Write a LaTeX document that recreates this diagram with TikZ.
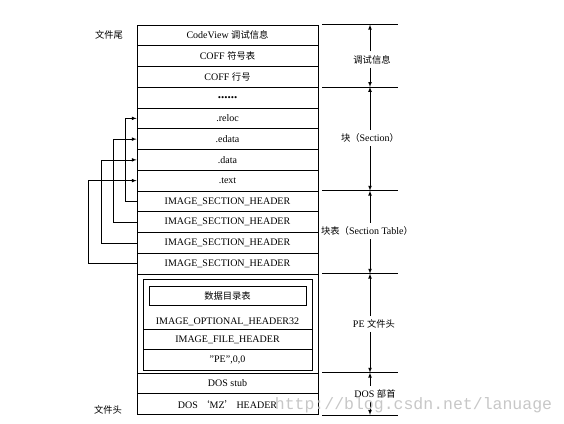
\documentclass[tikz,border=0pt]{standalone}
\usepackage{fontspec}
\setmainfont{Liberation Serif}
\newfontfamily\cjk{Noto Sans CJK SC}[Scale=0.93]
\newfontfamily\wmfont{Liberation Mono}
\usetikzlibrary{arrows, calc}
\tikzstyle{row} = [rectangle, minimum width=181pt, minimum height=20.75pt, inner sep=0pt, text centered, draw=black]
\tikzstyle{inrow} = [rectangle, minimum width=169pt, minimum height=20.75pt, inner sep=0pt, text centered, draw=black]
\tikzstyle{arrow} = [->, >=latex]
\tikzstyle{tick} = [line width=0.6pt]

\begin{document}
\begin{tikzpicture}[x=1pt, y=-1pt, node distance=20.75pt, font=\fontsize{10pt}{12pt}\selectfont, line width=0.7pt]
  \useasboundingbox (0,0) rectangle (564,423);
  \node (cv) [row] at (227.5,35.375) {CodeView {\cjk 调试信息}};
  \node (coffsym) [row, below of = cv] {COFF {\cjk 符号表}};
  \node (coffline) [row, below of = coffsym] {COFF {\cjk 行号}};
  \node (dots) [row, below of = coffline] {\fontsize{13pt}{14pt}\selectfont\textbf{......}};
  \node (reloc) [row, below of = dots] {.reloc};
  \node (edata) [row, below of = reloc] {.edata};
  \node (data) [row, below of = edata] {.data};
  \node (text) [row, below of = data] {.text};
  \node (ish1) [row, below of = text] {IMAGE\_SECTION\_HEADER};
  \node (ish2) [row, below of = ish1] {IMAGE\_SECTION\_HEADER};
  \node (ish3) [row, below of = ish2] {IMAGE\_SECTION\_HEADER};
  \node (ish4) [row, below of = ish3] {IMAGE\_SECTION\_HEADER};
  \node (pehdr) [row, below of = ish4, minimum height = 99pt, yshift = -39.125pt] {};
  \node (stub) [row, below of = pehdr, yshift = -39.125pt] {DOS stub};
  \node (mz) [row, below of = stub] {DOS {\cjk ‘}MZ{\cjk ’} HEADER};
  % PE header inside
  \node (opthdr) [inrow, minimum height = 50pt] at (227.5,304) {};
  \node (datadir) [rectangle, draw=black, minimum width=157pt, minimum height=19pt] at (227.5,295.5) {{\cjk 数据目录表}};
  \node (optlbl) [anchor = south] at (opthdr.south) {IMAGE\_OPTIONAL\_HEADER32};
  \node (fhdr) [inrow, below of = opthdr, yshift = -14.625pt] {IMAGE\_FILE\_HEADER};
  \node (pesig) [inrow, below of = fhdr] {"PE",0,0};
  % file ends
  \node (tail) at (109,35) {{\cjk 文件尾}};
  \node (head) at (108,410) {{\cjk 文件头}};
  % section headers point to sections
  \draw [arrow] (ish1.west) -- ++(-11pt,0) |- (reloc.west);
  \draw [arrow] (ish2.west) -- ++(-23pt,0) |- (edata.west);
  \draw [arrow] (ish3.west) -- ++(-35pt,0) |- (data.west);
  \draw [arrow] (ish4.west) -- ++(-48pt,0) |- (text.west);
  % ticks on the right
  \draw let \p1 = (cv.north east) in [tick] (\x1+4pt,\y1) -- (\x1+80pt,\y1);
  \draw let \p1 = (dots.north east) in [tick] (\x1+4pt,\y1) -- (\x1+80pt,\y1);
  \draw let \p1 = (ish1.north east) in [tick] (\x1+4pt,\y1) -- (\x1+80pt,\y1);
  \draw let \p1 = (pehdr.north east) in [tick] (\x1+4pt,\y1) -- (\x1+80pt,\y1);
  \draw let \p1 = (stub.north east) in [tick] (\x1+4pt,\y1) -- (\x1+80pt,\y1);
  \draw let \p1 = (mz.south east) in [tick] (\x1+4pt,\y1) -- (\x1+80pt,\y1);
  \coordinate (dimx) at (370,0);
  \node (dbglbl) at (372,59.5) {{\cjk 调试信息}};
  \node (seclbl) at (370,138) {{\cjk 块（}Section{\cjk ）}};
  \node (tbllbl) at (367,231) {{\cjk 块表（}Section Table{\cjk ）}};
  \node (pelbl) at (374,324) {PE {\cjk 文件头}};
  \node (doslbl) at (375,394) {DOS {\cjk 部首}};
  \draw [arrow] (dimx |- dbglbl.north) -- (dimx |- cv.north);
  \draw [arrow] (dimx |- dbglbl.south) -- (dimx |- dots.north);
  \draw [arrow] (dimx |- seclbl.north) -- (dimx |- dots.north);
  \draw [arrow] (dimx |- seclbl.south) -- (dimx |- ish1.north);
  \draw [arrow] (dimx |- tbllbl.north) -- (dimx |- ish1.north);
  \draw [arrow] (dimx |- tbllbl.south) -- (dimx |- pehdr.north);
  \draw [arrow] (dimx |- pelbl.north) -- (dimx |- pehdr.north);
  \draw [arrow] (dimx |- pelbl.south) -- (dimx |- stub.north);
  \draw [arrow] (dimx |- doslbl.north) -- (dimx |- stub.north);
  \draw [arrow] (dimx |- doslbl.south) -- (dimx |- mz.south);
  % watermark
  \node (wmark) [text=black!22, font=\wmfont\fontsize{16.5pt}{18pt}\selectfont] at (413.5,405) {http://blog.csdn.net/lanuage};
\end{tikzpicture}
\end{document}
